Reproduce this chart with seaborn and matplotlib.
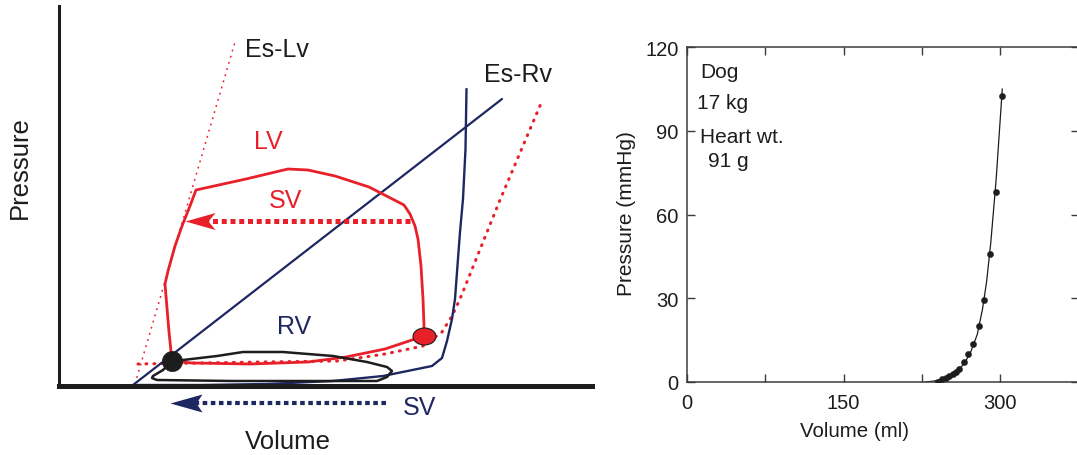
import matplotlib
matplotlib.use("Agg")
import matplotlib.pyplot as plt
from matplotlib.path import Path
from matplotlib.markers import MarkerStyle
from matplotlib.transforms import Affine2D
import seaborn as sns

# ---------------- Left panel: schematic P-V diagram (arbitrary units) ----------------
lv_loop_volume = [112, 132, 190, 248, 286, 325, 355, 364, 364, 363, 361, 358, 355, 350, 344,
                  309, 275, 248, 228, 186, 136, 130, 122, 115, 108, 105, 109, 112]
lv_loop_pressure = [25, 23, 22, 24, 29, 37, 47, 50, 60, 87, 120, 147, 160, 172, 181,
                    199, 210, 216, 217, 207, 196, 180, 160, 140, 115, 102, 54, 25]

rv_loop_volume = [112, 123, 157, 183, 223, 273, 307, 327, 332, 327, 317, 257, 173, 97, 92, 93, 103, 112]
rv_loop_pressure = [25, 26, 30, 34, 34, 30, 24, 19, 15, 9, 5, 5, 5, 6, 8, 10, 16, 25]

lv_edpvr_volume = [78, 140, 200, 278, 325, 363, 382, 392, 400, 440, 482]
lv_edpvr_pressure = [22, 23, 24, 25, 32, 40, 54, 70, 87, 186, 285]

rv_edpvr_volume = [77, 140, 207, 273, 323, 372, 382, 387, 392, 395, 400, 403, 405.5, 406.5]
rv_edpvr_pressure = [1, 1, 2, 5, 10, 20, 28, 45, 67, 87, 154, 187, 237, 297]

es_lv_volume = [75, 175]
es_lv_pressure = [2, 344]
es_rv_volume = [73, 442]
es_rv_pressure = [1, 287]

end_systole_point = (112, 25)      # black dot
end_diastole_point = (364, 50)     # red dot

sv_lv_arrow_volume = [350, 125]    # tail -> tip
sv_lv_arrow_pressure = 165
sv_rv_arrow_volume = [326, 110]
sv_rv_arrow_pressure = -17

# ---------------- Right panel: dog heart passive P-V relation ----------------
measured_volume = [240, 244, 248, 251, 254.5, 257.7, 260.9, 265.7, 269.5, 274.3, 280, 284.8, 290.2, 296, 301.4]
measured_pressure = [0.1, 1.1, 1.5, 2.0, 2.8, 3.5, 4.7, 7.0, 10, 13.6, 20, 29.2, 45.9, 68.0, 102.6]
fit_volume = [228, 236, 244, 252, 260, 266, 272, 278, 283, 287, 291, 296, 302]
fit_pressure = [0, 0.3, 1.0, 2.3, 4.3, 6.8, 11, 17, 26, 36, 50, 72, 105]

x_major_ticks = [0, 150, 300]
x_minor_ticks = [75, 225]
y_ticks = [0, 30, 60, 90, 120]
annotation_lines = ["Dog", "17 kg", "Heart wt.", "91 g"]

RED = "#E8202A"
NAVY = "#1E2761"
INK = "#1d1d1d"

sns.set_theme(style="white")
plt.rcParams["font.family"] = ["Liberation Sans", "DejaVu Sans"]

W, H = 1077, 456
fig = plt.figure(figsize=(W / 100, H / 100), dpi=100)


def px_axes(left, top, right, bottom):
    return fig.add_axes([left / W, 1 - bottom / H, (right - left) / W, (bottom - top) / H])


def arrow_marker(length, half, notch):
    verts = [(0, 0), (length, half), (notch, 0), (length, -half), (0, 0)]
    codes = [Path.MOVETO, Path.LINETO, Path.LINETO, Path.LINETO, Path.CLOSEPOLY]
    return MarkerStyle(Path(verts, codes))


# ======================= LEFT =======================
axL = px_axes(59, 7, 592, 387)
axL.set_xlim(-1, 532)
axL.set_ylim(0, 380)
axL.set_facecolor("none")
for s in ["top", "right"]:
    axL.spines[s].set_visible(False)
axL.spines["left"].set_linewidth(2.2)
axL.spines["left"].set_color(INK)
axL.spines["bottom"].set_linewidth(3.6)
axL.spines["bottom"].set_color(INK)
axL.spines["bottom"].set_zorder(6)
axL.set_xticks([])
axL.set_yticks([])

common = dict(sort=False, estimator=None, errorbar=None, ax=axL, legend=False)

# Es-Lv thin dotted
sns.lineplot(x=es_lv_volume, y=es_lv_pressure, color=RED, lw=1.1,
             linestyle=(0, (1.2, 3)), zorder=2, **common)
# LV EDPVR dotted
sns.lineplot(x=lv_edpvr_volume, y=lv_edpvr_pressure, color=RED, lw=2.2,
             linestyle=(0, (0.3, 2.3)), dash_capstyle="round", zorder=2, **common)
# Es-Rv
sns.lineplot(x=es_rv_volume, y=es_rv_pressure, color=NAVY, lw=1.6, zorder=3, **common)
# RV EDPVR
sns.lineplot(x=rv_edpvr_volume, y=rv_edpvr_pressure, color=NAVY, lw=1.7,
             solid_joinstyle="round", zorder=3, **common)
# LV loop
sns.lineplot(x=lv_loop_volume, y=lv_loop_pressure, color=RED, lw=2.0,
             solid_joinstyle="round", zorder=4, **common)
# RV loop
sns.lineplot(x=rv_loop_volume, y=rv_loop_pressure, color=INK, lw=1.8,
             solid_joinstyle="round", zorder=4, **common)

# SV arrows
sns.lineplot(x=[sv_lv_arrow_volume[0], sv_lv_arrow_volume[1] + 20],
             y=[sv_lv_arrow_pressure] * 2, color=RED, lw=3.6,
             linestyle=(0, (1, 0.75)), zorder=4, **common)
sns.scatterplot(x=[sv_lv_arrow_volume[1]], y=[sv_lv_arrow_pressure], ax=axL,
                marker=arrow_marker(30, 8.5, 23), s=(2 * 30 * 0.72) ** 2,
                color=RED, linewidth=0, zorder=5, legend=False)

sns.lineplot(x=[sv_rv_arrow_volume[0], sv_rv_arrow_volume[1] + 20],
             y=[sv_rv_arrow_pressure] * 2, color=NAVY, lw=3.0,
             linestyle=(0, (1.1, 0.85)), zorder=4, clip_on=False, **common)
sns.scatterplot(x=[sv_rv_arrow_volume[1]], y=[sv_rv_arrow_pressure], ax=axL,
                marker=arrow_marker(32, 9, 26), s=(2 * 32 * 0.72) ** 2,
                color=NAVY, linewidth=0, zorder=5, legend=False, clip_on=False)

# Dots
ellipse = MarkerStyle(Affine2D().scale(1.0, 0.74).transform_path(Path.unit_circle()))
sns.scatterplot(x=[end_diastole_point[0]], y=[end_diastole_point[1]], ax=axL,
                marker=ellipse, s=16.5 ** 2, color=RED, edgecolor=INK,
                linewidth=0.8, zorder=7, legend=False)
sns.scatterplot(x=[end_systole_point[0]], y=[end_systole_point[1]], ax=axL,
                marker="o", s=14.5 ** 2, color=INK, edgecolor=INK,
                linewidth=0.5, zorder=7, legend=False)

fs = 18
axL.text(185, 337, "Es-Lv", color=INK, fontsize=fs, ha="left", va="center")
axL.text(424, 312, "Es-Rv", color=INK, fontsize=fs, ha="left", va="center")
axL.text(208, 245, "LV", color=RED, fontsize=fs, ha="center", va="center")
axL.text(226, 186, "SV", color=RED, fontsize=fs, ha="center", va="center")
axL.text(234, 60, "RV", color=NAVY, fontsize=fs, ha="center", va="center")
axL.text(359, -21, "SV", color=NAVY, fontsize=fs, ha="center", va="center")
axL.text(-40, 219, "Pressure", color=INK, fontsize=18.5, rotation=90, ha="center", va="center")
axL.text(228, -55, "Volume", color=INK, fontsize=18.5, ha="center", va="center")

# ======================= RIGHT =======================
axR = px_axes(687, 48, 1078.5, 383)
axR.set_xlim(0, 375)
axR.set_ylim(0, 120)
axR.set_facecolor("none")
SP = "#3c3c3c"
for s in axR.spines.values():
    s.set_linewidth(1.1)
    s.set_color(SP)

sns.lineplot(x=fit_volume, y=fit_pressure, ax=axR, color=INK, lw=0.9,
             sort=False, estimator=None, errorbar=None, legend=False)
sns.scatterplot(x=measured_volume, y=measured_pressure, ax=axR, color=INK,
                s=20, edgecolor=INK, linewidth=0.3, legend=False, zorder=4)

axR.set_xticks(x_major_ticks)
axR.set_xticks(x_minor_ticks, minor=True)
axR.set_yticks(y_ticks)
axR.tick_params(which="both", direction="in", length=5.5, width=1.0, color=SP,
                top=True, right=True, bottom=True, left=True,
                labelsize=14.5, labelcolor=INK, pad=6)
axR.tick_params(axis="x", pad=8)

axR.set_xlabel("Volume (ml)", fontsize=14.8, color=INK)
axR.xaxis.set_label_coords(0.429, -0.115)
axR.set_ylabel("Pressure (mmHg)", fontsize=15, color=INK)
axR.yaxis.set_label_coords(-0.13, 0.506)

ann_x = [12.5, 9.6, 12.5, 20]
ann_y = [109.2, 98.2, 85.9, 77.5]
for t, xx, yy in zip(annotation_lines, ann_x, ann_y):
    axR.text(xx, yy, t, fontsize=15, color=INK, ha="left", va="baseline")

fig.savefig("out.png", dpi=100, facecolor="white")
